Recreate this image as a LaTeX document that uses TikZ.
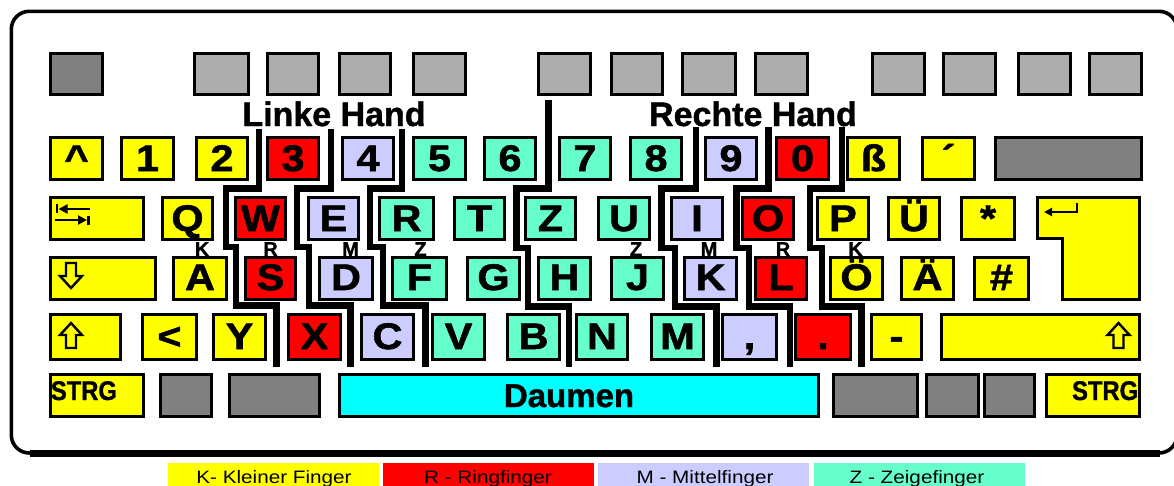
\documentclass[tikz,border=0pt]{standalone}
\usepackage{fontspec}
\usetikzlibrary{arrows.meta}
\setmainfont{Liberation Sans}
\newfontfamily\kfont{Liberation Sans}[BoldFeatures={FakeStretch=1.12,FakeBold=1.5}]
\newfontfamily\hfont{Liberation Sans}[BoldFeatures={FakeBold=1.2}]
\newfontfamily\stfont{Liberation Sans}[BoldFeatures={FakeStretch=0.88,FakeBold=1.2}]
\newfontfamily\lgfont{Liberation Sans}[FakeStretch=1.15]
\definecolor{kY}{RGB}{255,255,0}
\definecolor{kR}{RGB}{255,0,0}
\definecolor{kM}{RGB}{204,204,255}
\definecolor{kZ}{RGB}{102,255,204}
\definecolor{kC}{RGB}{0,255,255}
\definecolor{gL}{RGB}{173,173,173}
\definecolor{gD}{RGB}{128,128,128}
% name, x1, y1, x2, y2, fill, label, baseline
\newcommand\kk[8]{%
  \node[keybox,fill=#6,minimum width={(#4-#2-2.6)*1pt},minimum height={(#5-#3-2.6)*1pt}] (#1) at ({(#2+#4)/2},{(#3+#5)/2}) {};
  \node[keylbl] (#1t) at ({(#2+#4)/2},#8) {#7};}
\begin{document}
\begin{tikzpicture}[x=1pt,y=-1pt,
  keybox/.style={draw=black,line width=2.6pt,inner sep=0pt,outer sep=0pt,rectangle},
  keylbl/.style={anchor=base,inner sep=0pt,outer sep=0pt,font=\kfont\bfseries\fontsize{37}{37}\selectfont},
  handlbl/.style={anchor=base,inner sep=0pt,font=\hfont\bfseries\fontsize{34}{34}\selectfont},
  fingerlbl/.style={anchor=base,inner sep=0pt,font=\hfont\bfseries\fontsize{20}{20}\selectfont},
  strglbl/.style={inner sep=0pt,font=\stfont\bfseries\fontsize{27}{27}\selectfont},
  daumlbl/.style={anchor=base,inner sep=0pt,font=\hfont\bfseries\fontsize{33}{33}\selectfont},
  legbox/.style={anchor=north west,inner sep=0pt,outer sep=0pt,minimum width=211pt,minimum height=40pt},
  legtxt/.style={anchor=base,inner sep=0pt,font=\lgfont\fontsize{18}{18}\selectfont},
  sepline/.style={line width=6.5pt,line join=miter,line cap=butt},
  symline/.style={line width=2pt},
  hollow/.style={draw=black,line width=2.4pt,fill=kY,line join=miter},
]
\useasboundingbox (0,0) rectangle (1174,485);
\clip (0,0) rectangle (1174,485);
\fill[white] (0,0) rectangle (1174,485);

% frame
\draw[line width=3.6pt,rounded corners=18pt] (11.3,11.3) rectangle (1177,453);
\draw[line width=6.5pt] (30,453.5) -- (1160,453.5);

% row 0
\kk{esc}{49}{52}{104}{96}{gD}{}{0}
\kk{fa}{193}{52}{250}{96}{gL}{}{0}
\kk{fb}{266}{52}{320}{96}{gL}{}{0}
\kk{fc}{338}{52}{392}{96}{gL}{}{0}
\kk{fd}{412}{52}{467}{96}{gL}{}{0}
\kk{fe}{537}{52}{592}{96}{gL}{}{0}
\kk{ff}{610}{52}{664}{96}{gL}{}{0}
\kk{fg}{681}{52}{737}{96}{gL}{}{0}
\kk{fh}{754}{52}{809}{96}{gL}{}{0}
\kk{fi}{871}{52}{926}{96}{gL}{}{0}
\kk{fj}{942}{52}{997}{96}{gL}{}{0}
\kk{fk}{1017}{52}{1072}{96}{gL}{}{0}
\kk{fl}{1088}{52}{1143}{96}{gL}{}{0}

% row 1
\kk{kcirc}{49}{136}{104}{181}{kY}{\textasciicircum}{171}
\kk{kone}{120}{136}{175}{181}{kY}{1}{171}
\kk{ktwo}{195}{136}{249}{181}{kY}{2}{171}
\kk{kthree}{266}{136}{320}{181}{kR}{3}{171}
\kk{kfour}{341}{136}{395}{181}{kM}{4}{171}
\kk{kfive}{412}{136}{467}{181}{kZ}{5}{171}
\kk{ksix}{483}{136}{537}{181}{kZ}{6}{171}
\kk{kseven}{558}{136}{612}{181}{kZ}{7}{171}
\kk{keight}{629}{136}{683}{181}{kZ}{8}{171}
\kk{knine}{704}{136}{758}{181}{kM}{9}{171}
\kk{kzero}{775}{136}{830}{181}{kR}{0}{171}
\kk{ksz}{846}{136}{901}{181}{kY}{ß}{171}
\kk{kacc}{921}{136}{976}{181}{kY}{´}{171}
\kk{bksp}{994}{136}{1143}{181}{gD}{}{171}

% row 2
\kk{tab}{49}{196}{145}{241}{kY}{}{231}
\kk{kq}{161}{196}{214}{241}{kY}{Q}{231}
\kk{kw}{234}{196}{287}{241}{kR}{W}{231}
\kk{ke}{307}{196}{360}{241}{kM}{E}{231}
\kk{kr}{378}{196}{435}{241}{kZ}{R}{231}
\kk{kt}{453}{196}{506}{241}{kZ}{T}{231}
\kk{kz}{524}{196}{577}{241}{kZ}{Z}{231}
\kk{ku}{597}{196}{651}{241}{kZ}{U}{231}
\kk{ki}{670}{196}{724}{241}{kM}{I}{231}
\kk{ko}{741}{196}{795}{241}{kR}{O}{231}
\kk{kp}{816}{196}{870}{241}{kY}{P}{231}
\kk{kue}{887}{196}{941}{241}{kY}{Ü}{231}
\kk{kast}{960}{196}{1016}{241}{kY}{*}{231}
\draw[line width=2.6pt,fill=kY,line join=miter] (1037.3,197.3) -- (1139.7,197.3) -- (1139.7,299.7) -- (1062.3,299.7) -- (1062.3,238.5) -- (1037.3,238.5) -- cycle;

% finger labels
\node[fingerlbl] (fka) at (202,256) {K};
\node[fingerlbl] (fks) at (270.5,256) {R};
\node[fingerlbl] (fkd) at (350.5,256) {M};
\node[fingerlbl] (fkf) at (420.5,256) {Z};
\node[fingerlbl] (fkj) at (636,256) {Z};
\node[fingerlbl] (fkk) at (709,256) {M};
\node[fingerlbl] (fkl) at (783,256) {R};
\node[fingerlbl] (fkoe) at (855.5,256) {K};

% row 3
\kk{caps}{49}{256}{157}{301}{kY}{}{290}
\kk{ka}{172}{256}{228}{301}{kY}{A}{290}
\kk{ks}{244}{256}{297}{301}{kR}{S}{290}
\kk{kd}{318}{256}{374}{301}{kM}{D}{290}
\kk{kf}{391}{256}{448}{301}{kZ}{F}{290}
\kk{kg}{466}{256}{521}{301}{kZ}{G}{290}
\kk{kh}{537}{256}{592}{301}{kZ}{H}{290}
\kk{kj}{610}{256}{665}{301}{kZ}{J}{290}
\kk{kk}{683}{256}{738}{301}{kM}{K}{290}
\kk{kl}{754}{256}{808}{301}{kR}{L}{290}
\kk{koe}{829}{256}{884}{301}{kY}{Ö}{290}
\kk{kae}{900}{256}{955}{301}{kY}{Ä}{290}
\kk{khash}{973}{256}{1030}{301}{kY}{\#}{290}

% row 4
\kk{lsh}{49}{313}{122}{361}{kY}{}{349}
\kk{klt}{141}{313}{198}{361}{kY}{<}{349}
\kk{ky}{212}{313}{267}{361}{kY}{Y}{349}
\kk{kx}{287}{313}{342}{361}{kR}{X}{349}
\kk{kc}{360}{313}{415}{361}{kM}{C}{349}
\kk{kv}{431}{313}{486}{361}{kZ}{V}{349}
\kk{kb}{506}{313}{561}{361}{kZ}{B}{349}
\kk{kn}{575}{313}{629}{361}{kZ}{N}{349}
\kk{km}{650}{313}{705}{361}{kZ}{M}{349}
\kk{kcom}{721}{313}{778}{361}{kM}{,}{349}
\kk{kdot}{794}{313}{852}{361}{kR}{.}{349}
\kk{kmin}{870}{313}{923}{361}{kY}{-}{349}
\kk{rsh}{940}{313}{1141}{361}{kY}{}{349}

% row 5
\kk{lctrl}{49}{373}{145}{418}{kY}{}{0}
\kk{ga}{159}{373}{213}{418}{gD}{}{0}
\kk{gb}{228}{373}{321}{418}{gD}{}{0}
\kk{space}{338}{373}{820}{418}{kC}{}{0}
\kk{gc}{832}{373}{919}{418}{gD}{}{0}
\kk{gd}{925}{373}{980}{418}{gD}{}{0}
\kk{ge}{983}{373}{1036}{418}{gD}{}{0}
\kk{rctrl}{1045}{373}{1141}{418}{kY}{}{0}
\node[strglbl,anchor=base west] (lctrlt) at (50.7,400) {STRG};
\node[strglbl,anchor=base east] (rctrlt) at (1138.3,400) {STRG};
\node[daumlbl] (spacet) at (569,407) {Daumen};

% symbols
\draw[symline,line width=2.6pt] (57,204) -- (57,213);
\draw[symline,-{Triangle[length=9pt,width=9pt]}] (90,209) -- (58.5,209);
\draw[symline,line width=2.6pt] (88.5,216) -- (88.5,224.5);
\draw[symline,-{Triangle[length=9pt,width=9pt]}] (55,220) -- (87,220);
\draw[hollow] (66,263) -- (76,263) -- (76,276) -- (82,276) -- (71,288) -- (60,276) -- (66,276) -- cycle;
\draw[hollow] (66,348) -- (76,348) -- (76,335) -- (82,335) -- (71,323) -- (60,335) -- (66,335) -- cycle;
\draw[hollow] (1113.5,348) -- (1123.5,348) -- (1123.5,335) -- (1129.5,335) -- (1118.5,323) -- (1107.5,335) -- (1113.5,335) -- cycle;
\draw[symline,-{Triangle[length=8pt,width=8pt]}] (1077,203) -- (1077,212) -- (1044,212);

% hand labels
\node[handlbl] (lh) at (334,126) {Linke Hand};
\node[handlbl] (rh) at (753,126) {Rechte Hand};

% finger separators
\draw[sepline] (259,129) -- (259,188.5) -- (226,188.5) -- (226,247) -- (236,247) -- (236,305.5) -- (276.5,305.5) -- (276.5,367);
\draw[sepline] (331,129) -- (331,188.5) -- (297,188.5) -- (297,247) -- (309,247) -- (309,305.5) -- (350.5,305.5) -- (350.5,367);
\draw[sepline] (402,129) -- (402,188.5) -- (370,188.5) -- (370,247) -- (383,247) -- (383,305.5) -- (425.5,305.5) -- (425.5,367);
\draw[sepline] (548.5,100) -- (548.5,188.5) -- (516.5,188.5) -- (516.5,248) -- (528,248) -- (528,306.5) -- (569,306.5) -- (569,367);
\draw[sepline] (696,127) -- (696,188.5) -- (661.5,188.5) -- (661.5,248) -- (675,248) -- (675,306.5) -- (716.5,306.5) -- (716.5,367);
\draw[sepline] (768.5,127) -- (768.5,188.5) -- (736.5,188.5) -- (736.5,248) -- (749,248) -- (749,306.5) -- (790,306.5) -- (790,367);
\draw[sepline] (842,127) -- (842,188.5) -- (810,188.5) -- (810,248) -- (822,248) -- (822,306.5) -- (861.5,306.5) -- (861.5,367);

% legend
\node[legbox,fill=kY] (lgk) at (168,463) {};
\node[legbox,fill=kR] (lgr) at (383,463) {};
\node[legbox,fill=kM] (lgm) at (598,463) {};
\node[legbox,fill=kZ] (lgz) at (814,463) {};
\node[legtxt] (lgkt) at (274,483) {K- Kleiner Finger};
\node[legtxt] (lgrt) at (488,483) {R - Ringfinger};
\node[legtxt] (lgmt) at (705,483) {M - Mittelfinger};
\node[legtxt] (lgzt) at (917,483) {Z - Zeigefinger};
\end{tikzpicture}
\end{document}
